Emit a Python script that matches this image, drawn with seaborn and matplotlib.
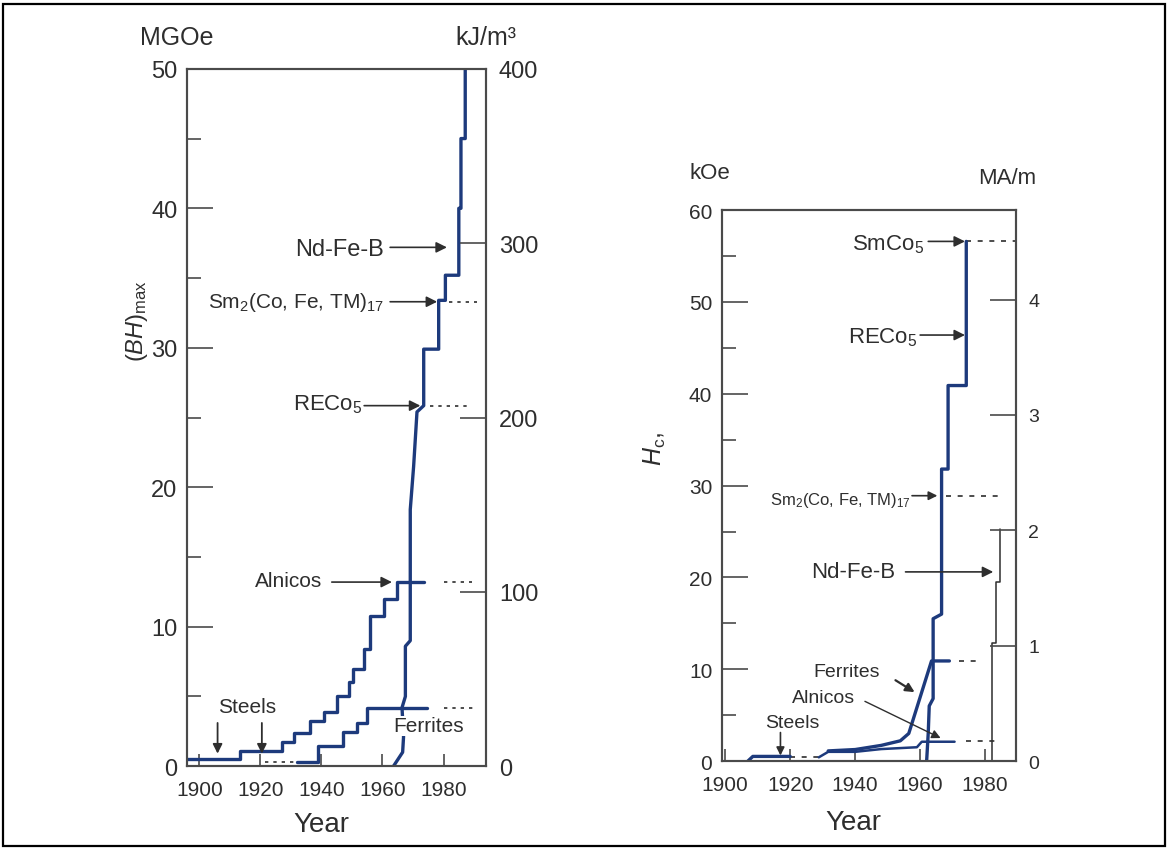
import matplotlib
matplotlib.use("Agg")
import matplotlib.pyplot as plt
from matplotlib.patches import Rectangle
import seaborn as sns

# ---- data ---------------------------------------------------------------
# left panel: energy product (BH)max in MGOe
L_ALNICO_YEAR = [1896, 1913.4, 1927.0, 1930.9, 1936.3, 1940.7, 1945.1, 1948.9,
                 1950.5, 1953.8, 1956.0, 1960.4, 1964.8, 1973.5]
L_ALNICO_BH = [0.5, 1.1, 1.7, 2.4, 3.25, 3.85, 5.0, 6.0, 7.0, 8.4, 10.8, 12.0,
               13.2, 13.2]

L_FERRITE_YEAR = [1932.0, 1939.0, 1947.2, 1951.6, 1954.9, 1974.6]
L_FERRITE_BH = [0.27, 1.46, 2.42, 3.1, 4.2, 4.2]

L_RE_YEAR = [1963.6, 1964.8, 1966.6, 1966.9, 1966.4, 1967.5, 1967.5, 1969.1,
             1969.1, 1970.2, 1971.3, 1973.5, 1973.5, 1978.4, 1978.4, 1980.6,
             1980.6, 1985.0, 1985.0, 1985.7, 1985.7, 1987.1, 1987.1]
L_RE_BH = [0.0, 0.4, 1.0, 2.1, 4.2, 5.0, 8.6, 9.0, 18.4, 21.5, 25.4, 25.85,
           29.9, 29.9, 33.4, 33.4, 35.2, 35.2, 40.0, 40.0, 45.0, 45.0, 50.0]

L_REF_BH = [0.27, 4.2, 13.2, 25.85, 33.3]
L_REF_START = [1921.6, 1980.0, 1980.0, 1975.7, 1981.7]
L_REF_END = [1932.0, 1990.8, 1989.3, 1988.8, 1991.0]

# right panel: coercivity Hc in kOe
R_STEEL_YEAR = [1907.0, 1908.5, 1920.0]
R_STEEL_HC = [0.0, 0.5, 0.5]

R_ALNICO_YEAR = [1928.8, 1931.7, 1940.0, 1948.0, 1959.0, 1960.5, 1970.6]
R_ALNICO_HC = [0.4, 1.0, 1.0, 1.3, 1.5, 2.1, 2.1]

R_FERRITE_YEAR = [1931.7, 1940.0, 1948.0, 1953.9, 1956.5, 1963.5, 1969.0]
R_FERRITE_HC = [1.1, 1.25, 1.7, 2.2, 3.0, 10.9, 10.9]

R_RE_YEAR = [1962.0, 1962.5, 1962.8, 1964.0, 1964.0, 1966.6, 1966.6, 1968.6,
             1968.6, 1974.2, 1974.2]
R_RE_HC = [0.0, 3.1, 6.0, 6.8, 15.5, 16.0, 31.8, 31.8, 40.9, 40.9, 56.6]

R_NDFEB_YEAR = [1982.2, 1982.2, 1983.2, 1983.2, 1984.7, 1984.7]
R_NDFEB_HC = [0.0, 12.9, 12.9, 19.5, 19.5, 25.3]

R_REF_HC = [0.4, 2.2, 10.9, 28.9, 56.6]
R_REF_START = [1920.0, 1974.0, 1972.0, 1968.1, 1974.2]
R_REF_END = [1928.8, 1983.7, 1978.7, 1985.8, 1989.5]

YEAR_TICKS = [1900, 1920, 1940, 1960, 1980]
BH_TICKS = [0, 10, 20, 30, 40, 50]
KJ_TICKS = [0, 100, 200, 300, 400]
HC_TICKS = [0, 10, 20, 30, 40, 50, 60]
MA_TICKS = [0, 1, 2, 3, 4]

# ---- style -----------------------------------------------------------------
sns.set_theme(style="white")
plt.rcParams["font.family"] = ["Liberation Sans", "DejaVu Sans"]
plt.rcParams["mathtext.fontset"] = "custom"
plt.rcParams["mathtext.rm"] = "Liberation Sans"
plt.rcParams["mathtext.it"] = "Liberation Sans:italic"

BLUE = "#1d3a7c"
INK = "#2e2e2e"
GREY = "#4a4a4a"


def curve(ax, x, y, **kw):
    sns.lineplot(x=x, y=y, ax=ax, estimator=None, sort=False, legend=False, **kw)


def arrow(ax, start, end, lw=1.2, head=16):
    ax.annotate("", xy=end, xytext=start,
                arrowprops=dict(arrowstyle="-|>", color=INK, lw=lw,
                                mutation_scale=head, shrinkA=0, shrinkB=0))


def frame(ax, ax2, xlim, ylim, y2lim, yticks, y2ticks, yminor, ysize, y2size):
    ax.set_xlim(*xlim)
    ax.set_ylim(*ylim)
    ax2.set_ylim(*y2lim)
    ax.set_xticks(YEAR_TICKS)
    ax.set_xticklabels([str(t) for t in YEAR_TICKS])
    ax.set_yticks(yticks)
    ax.set_yticks(yminor, minor=True)
    ax2.set_yticks(y2ticks)
    for a in (ax, ax2):
        for s in a.spines.values():
            s.set_color(GREY)
            s.set_linewidth(1.5)
    ax.tick_params(axis="y", which="major", direction="in", length=19, width=1.2,
                   color=GREY, pad=7, labelsize=ysize, labelcolor=INK, left=True)
    ax.tick_params(axis="y", which="minor", direction="in", length=10, width=1.2,
                   color=GREY, left=True)
    ax.tick_params(axis="x", direction="in", length=9, width=1.2, color=GREY,
                   pad=10, labelsize=15, labelcolor=INK, bottom=True)
    ax2.tick_params(axis="y", direction="in", length=19, width=1.2, color=GREY,
                    pad=9, labelsize=y2size, labelcolor=INK, right=True)
    ax.set_xlabel("")
    ax.set_ylabel("")
    ax2.set_ylabel("")


fig = plt.figure(figsize=(11.69, 8.62), dpi=100, facecolor="white")

# ---- left panel ------------------------------------------------------------
ax = fig.add_axes([0.160, 0.110, 0.256, 0.809])
ax2 = ax.twinx()
frame(ax, ax2, (1896, 1994), (0, 50), (0, 400), BH_TICKS, KJ_TICKS,
      [5, 15, 25, 35, 45], 17, 17)

for x0, x1, y in zip(L_REF_START, L_REF_END, L_REF_BH):
    curve(ax, [x0, x1], [y, y], color=INK, lw=1.2, linestyle=(0, (2, 3)))
curve(ax, L_ALNICO_YEAR, L_ALNICO_BH, color=BLUE, lw=2.4, drawstyle="steps-post")
curve(ax, L_FERRITE_YEAR, L_FERRITE_BH, color=BLUE, lw=2.4, drawstyle="steps-post")
curve(ax, L_RE_YEAR, L_RE_BH, color=BLUE, lw=2.4)

ax.text(1960.4, 37.1, "Nd-Fe-B", ha="right", va="center", fontsize=17, color=INK)
arrow(ax, (1962.5, 37.2), (1981.1, 37.2))
ax.text(1960.4, 33.3, "Sm$_2$(Co, Fe, TM)$_{17}$", ha="right", va="center",
        fontsize=15, color=INK)
arrow(ax, (1962.5, 33.3), (1977.9, 33.3))
ax.text(1953.5, 26.0, "RECo$_5$", ha="right", va="center", fontsize=16, color=INK)
arrow(ax, (1954.0, 25.85), (1972.4, 25.85))
ax.text(1940.2, 13.3, "Alnicos", ha="right", va="center", fontsize=15, color=INK)
arrow(ax, (1943.4, 13.2), (1963.1, 13.2))
ax.text(1915.6, 4.3, "Steels", ha="center", va="center", fontsize=15, color=INK)
arrow(ax, (1906.0, 3.1), (1906.0, 0.9), lw=1.3, head=14)
arrow(ax, (1920.5, 3.1), (1920.5, 0.9), lw=1.3, head=14)
ax.text(1975.1, 2.9, "Ferrites", ha="center", va="center", fontsize=15, color=INK,
        bbox=dict(facecolor="white", edgecolor="none", pad=0.5))

ax.text(-0.157, 1.046, "MGOe", transform=ax.transAxes, ha="left", va="center",
        fontsize=18, color=INK)
ax.text(0.998, 1.046, "kJ/m³", transform=ax.transAxes, ha="center", va="center",
        fontsize=18, color=INK)
ax.text(-0.168, 0.64, "($BH$)$_{\\mathrm{max}}$", transform=ax.transAxes,
        rotation=90, ha="center", va="center", fontsize=17, color=INK)
ax.text(0.45, -0.083, "Year", transform=ax.transAxes, ha="center", va="center",
        fontsize=20, color=INK)

# ---- right panel -----------------------------------------------------------
bx = fig.add_axes([0.6176, 0.116, 0.2515, 0.639])
bx2 = bx.twinx()
frame(bx, bx2, (1899, 1989.5), (0, 60), (0, 60 * 0.07958), HC_TICKS, MA_TICKS,
      [5, 15, 25, 35, 45, 55], 15, 14)

for x0, x1, y in zip(R_REF_START, R_REF_END, R_REF_HC):
    curve(bx, [x0, x1], [y, y], color=INK, lw=1.2, linestyle=(0, (3, 4)))
curve(bx, R_STEEL_YEAR, R_STEEL_HC, color=BLUE, lw=2.4)
curve(bx, R_ALNICO_YEAR, R_ALNICO_HC, color=BLUE, lw=1.8)
curve(bx, R_FERRITE_YEAR, R_FERRITE_HC, color=BLUE, lw=2.4)
curve(bx, R_RE_YEAR, R_RE_HC, color=BLUE, lw=2.4)
curve(bx, R_NDFEB_YEAR, R_NDFEB_HC, color=INK, lw=1.1)

bx.text(1961.2, 56.3, "SmCo$_5$", ha="right", va="center", fontsize=16, color=INK)
arrow(bx, (1962.5, 56.6), (1973.8, 56.6))
bx.text(1959.2, 46.2, "RECo$_5$", ha="right", va="center", fontsize=16, color=INK)
arrow(bx, (1960.0, 46.4), (1973.8, 46.4))
bx.text(1957.0, 28.5, "Sm$_2$(Co, Fe, TM)$_{17}$", ha="right", va="center",
        fontsize=12, color=INK)
arrow(bx, (1957.5, 28.9), (1965.3, 28.9), head=13)
bx.text(1952.4, 20.6, "Nd-Fe-B", ha="right", va="center", fontsize=16, color=INK)
arrow(bx, (1955.5, 20.6), (1982.5, 20.6))
bx.text(1937.3, 9.7, "Ferrites", ha="center", va="center", fontsize=14, color=INK)
arrow(bx, (1952.4, 8.8), (1958.3, 7.5), lw=1.6, head=13)
bx.text(1930.4, 6.9, "Alnicos", ha="center", va="center", fontsize=14, color=INK)
arrow(bx, (1943.0, 6.5), (1966.3, 2.5), lw=1.0, head=13)
bx.text(1920.6, 4.2, "Steels", ha="center", va="center", fontsize=14, color=INK)
arrow(bx, (1917.0, 3.1), (1917.0, 0.6), lw=1.2, head=12)

bx.text(-0.041, 1.069, "kOe", transform=bx.transAxes, ha="center", va="center",
        fontsize=16, color=INK)
bx.text(0.971, 1.060, "MA/m", transform=bx.transAxes, ha="center", va="center",
        fontsize=16, color=INK)
bx.text(-0.228, 0.568, "$H_{\\mathrm{c}}$,", transform=bx.transAxes, rotation=90,
        ha="center", va="center", fontsize=18, color=INK)
bx.text(0.447, -0.111, "Year", transform=bx.transAxes, ha="center", va="center",
        fontsize=20, color=INK)

# scan frame
fig.add_artist(Rectangle((0.0026, 0.0174), 0.994, 0.9768, transform=fig.transFigure,
                         fill=False, lw=1.6, edgecolor="black"))

fig.savefig("out.png", dpi=100, facecolor="white")
